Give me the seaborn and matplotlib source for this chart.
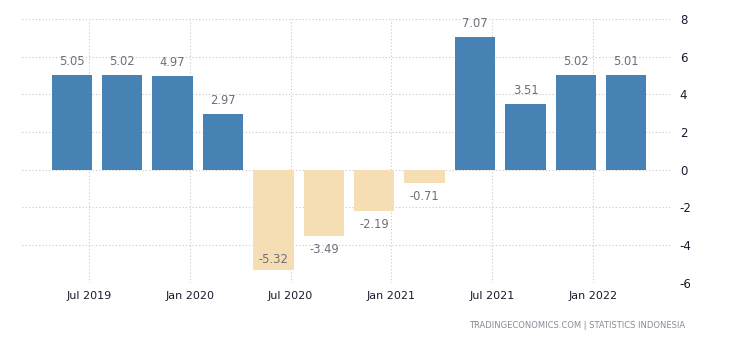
import matplotlib
matplotlib.use("Agg")
import matplotlib.pyplot as plt
import seaborn as sns
import pandas as pd

# Data
quarters = ["Q2 2019", "Q3 2019", "Q4 2019", "Q1 2020", "Q2 2020", "Q3 2020",
            "Q4 2020", "Q1 2021", "Q2 2021", "Q3 2021", "Q4 2021", "Q1 2022"]
values = [5.05, 5.02, 4.97, 2.97, -5.32, -3.49, -2.19, -0.71, 7.07, 3.51, 5.02, 5.01]
tick_labels = ["Jul 2019", "Jan 2020", "Jul 2020", "Jan 2021", "Jul 2021", "Jan 2022"]
tick_quarter_index = [0, 2, 4, 6, 8, 10]
y_ticks = [-6, -4, -2, 0, 2, 4, 6, 8]

POS_COLOR = "#4682B4"
NEG_COLOR = "#F5DEB3"

sns.set_theme(style="white")
plt.rcParams["font.family"] = ["DejaVu Sans"]

df = pd.DataFrame({"quarter": quarters, "value": values})
palette = {q: (POS_COLOR if v >= 0 else NEG_COLOR) for q, v in zip(quarters, values)}

fig = plt.figure(figsize=(7.3, 3.4), dpi=100)
ax = fig.add_axes([0.030, 0.168, 0.888, 0.776])

sns.barplot(data=df, x="quarter", y="value", hue="quarter", palette=palette,
            legend=False, width=0.8, saturation=1, linewidth=0, ax=ax, zorder=3)

ymin, ymax = -6, 8
ax.set_ylim(ymin, ymax)
ax.set_xlim(-0.99, 11.87)
ax.yaxis.tick_right()
ax.set_yticks(y_ticks)
ax.set_yticklabels([str(t) for t in y_ticks])
ax.set_xticks([i + 0.34 for i in tick_quarter_index])
ax.set_xticklabels(tick_labels)
ax.set_xlabel("")
ax.set_ylabel("")

for s in ax.spines.values():
    s.set_visible(False)

ax.set_axisbelow(True)
ax.grid(True, which="major", axis="both", linestyle=(0, (1, 2)), color="#c8c8c8", linewidth=0.8)
ax.tick_params(axis="x", length=4, color="#c8c8c8", labelsize=8, labelcolor="#1a1a2e", pad=2)
ax.tick_params(axis="y", length=0, labelsize=8.5, labelcolor="#1a1a2e", pad=7)

# value labels
for i, v in enumerate(values):
    if v >= 0:
        ax.annotate(f"{v:.2f}", (i, v), xytext=(0, 5), textcoords="offset points",
                    ha="center", va="bottom", fontsize=8.3, color="#6e6e7e")
    else:
        if v - 1.0 < ymin:
            ax.annotate(f"{v:.2f}", (i, v), xytext=(0, 3), textcoords="offset points",
                        ha="center", va="bottom", fontsize=8.3, color="#6e6e7e")
        else:
            ax.annotate(f"{v:.2f}", (i, v), xytext=(0, -5), textcoords="offset points",
                        ha="center", va="top", fontsize=8.3, color="#6e6e7e")

fig.text(685 / 730, 1 - 325 / 340, "TRADINGECONOMICS.COM | STATISTICS INDONESIA",
         ha="right", va="center", fontsize=6.0, color="#8a8a9a")

fig.savefig("out.png", dpi=100)
